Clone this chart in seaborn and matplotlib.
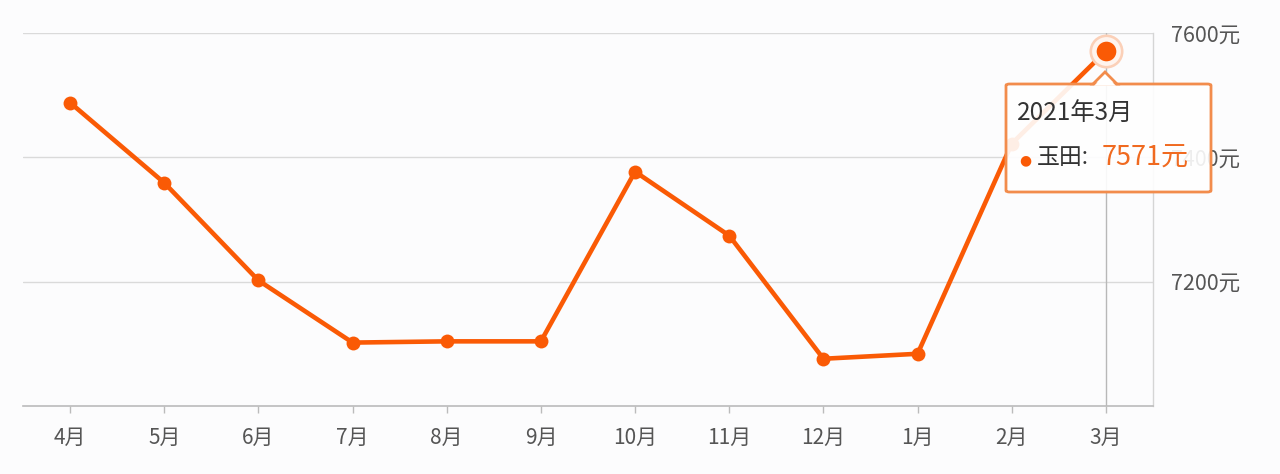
import matplotlib
matplotlib.use("Agg")
import matplotlib.pyplot as plt
import seaborn as sns
import pandas as pd
from matplotlib.patches import FancyBboxPatch, Polygon

months = ["4月", "5月", "6月", "7月", "8月", "9月", "10月", "11月", "12月", "1月", "2月", "3月"]
prices = [7488, 7359, 7202, 7102, 7104, 7104, 7377, 7274, 7076, 7084, 7422, 7571]
ytick_vals = [7200, 7400, 7600]
ytick_labels = ["7200元", "7400元", "7600元"]
tooltip_title = "2021年3月"
series_name = "玉田"

sns.set_theme(style="white")
plt.rcParams['font.family'] = ['Noto Sans CJK SC', 'DejaVu Sans']

W, H = 1280, 474
fig = plt.figure(figsize=(12.8, 4.74), dpi=100)
bg = "#fcfcfd"
fig.patch.set_facecolor(bg)
ax = fig.add_axes([23 / W, 1 - 406 / H, (1153 - 23) / W, (406 - 33) / H])
ax.set_facecolor(bg)

orange = "#fa5a05"
df = pd.DataFrame({"month": months, "price": prices})
sns.lineplot(data=df, x="month", y="price", sort=False, color=orange, linewidth=3.3,
             marker="o", markersize=10, markeredgewidth=0, ax=ax, zorder=5)

ax.set_xlim(-0.5, len(months) - 0.5)
ax.set_ylim(7000, 7600)
ax.set_xlabel("")
ax.set_ylabel("")

# grid lines
for v in ytick_vals:
    ax.axhline(v, color="#dadada", linewidth=1.0, zorder=1)

ax.yaxis.tick_right()
ax.set_yticks(ytick_vals)
ax.set_yticklabels(ytick_labels)
ax.tick_params(axis="y", length=0, pad=13, labelsize=15.5, labelcolor="#555555")
ax.set_xticks(range(len(months)))
ax.set_xticklabels(months)
ax.tick_params(axis="x", length=5, width=1, color="#bbbbbb", pad=10, labelsize=15,
               labelcolor="#555555", direction="out", bottom=True)

for s in ["top", "left"]:
    ax.spines[s].set_visible(False)
ax.spines["bottom"].set_color("#bbbbbb")
ax.spines["bottom"].set_linewidth(1.2)
ax.spines["right"].set_color("#d5d5d5")
ax.spines["right"].set_linewidth(1.0)

# axis pointer
last = len(months) - 1
ax.axvline(last, color="#b8b8b8", linewidth=1.0, zorder=2)

# highlighted point
ax.scatter([last], [prices[-1]], s=600, color="#fbd0b8", zorder=6, linewidths=0)
ax.scatter([last], [prices[-1]], s=430, color="#fff4ee", zorder=6, linewidths=0)
ax.scatter([last], [prices[-1]], s=200, color=orange, zorder=7, linewidths=0)

# tooltip (figure pixel coordinates)
def fx(px):
    return px / W

def fy(py):
    return 1 - py / H

box = FancyBboxPatch((fx(1006), fy(192)), fx(1211) - fx(1006), fy(84) - fy(192),
                     boxstyle="round,pad=0,rounding_size=0.003",
                     transform=fig.transFigure, facecolor="white", alpha=0.9,
                     edgecolor="none", zorder=20)
fig.add_artist(box)
border = FancyBboxPatch((fx(1006), fy(192)), fx(1211) - fx(1006), fy(84) - fy(192),
                        boxstyle="round,pad=0,rounding_size=0.003",
                        transform=fig.transFigure, facecolor="none",
                        edgecolor="#f28c4c", linewidth=2.0, zorder=21)
fig.add_artist(border)
tri = Polygon([(fx(1093), fy(84)), (fx(1105), fy(72)), (fx(1117), fy(84))],
              closed=True, transform=fig.transFigure, facecolor="white",
              edgecolor="#f28c4c", linewidth=2.0, zorder=21)
fig.add_artist(tri)
cover = Polygon([(fx(1094), fy(85.8)), (fx(1105), fy(74.8)), (fx(1116), fy(85.8))],
                closed=True, transform=fig.transFigure, facecolor="white",
                edgecolor="none", zorder=22)
fig.add_artist(cover)

fig.text(fx(1017), fy(114), tooltip_title, fontsize=17.5, color="#333333",
         va="center", ha="left", zorder=23)
fig.text(fx(1025), fy(160), "●", fontsize=10, color=orange, va="center", ha="center", zorder=23,
         family=["DejaVu Sans"])
fig.text(fx(1037), fy(158), f"{series_name}:", fontsize=16.5, color="#333333",
         va="center", ha="left", zorder=23)
fig.text(fx(1102), fy(158), f"{prices[-1]}元", fontsize=19.5, color="#f06a20",
         va="center", ha="left", zorder=23)

fig.savefig("out.png", dpi=100, facecolor=bg)
